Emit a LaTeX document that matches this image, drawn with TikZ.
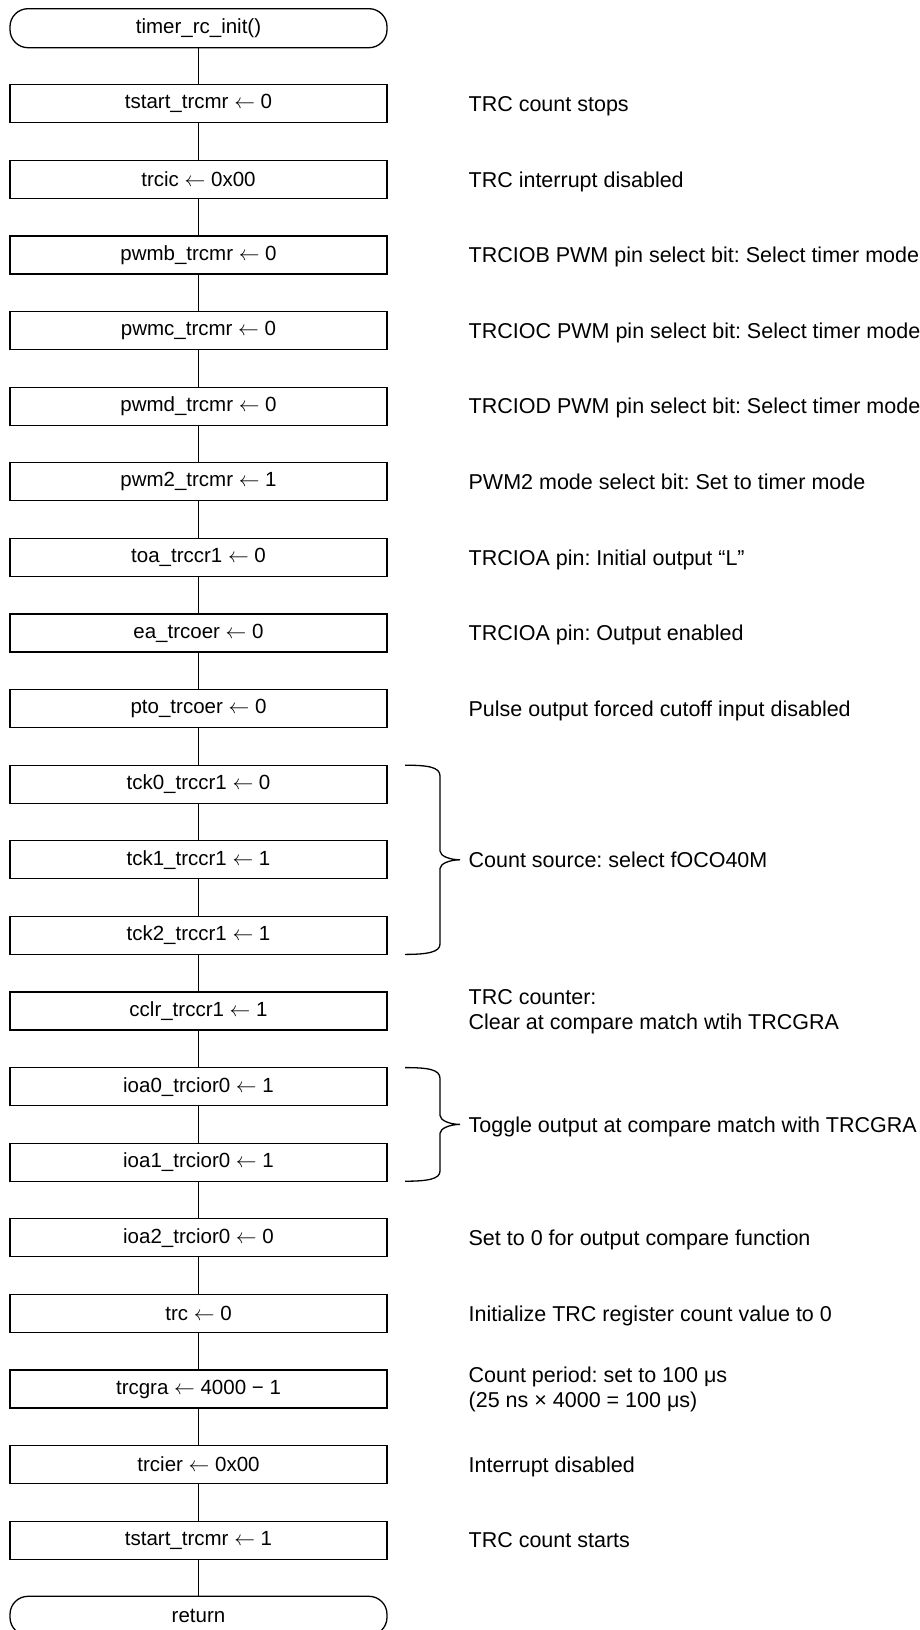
\documentclass[tikz,border=0pt]{standalone}
\usepackage{fontspec}
\setmainfont{Liberation Sans}
\usepackage{tikz}
\frenchspacing
\newcommand{\asgn}{$\leftarrow$}

\tikzset{
  proc/.style={draw, rectangle, minimum width=377pt, minimum height=38pt, inner sep=0pt},
  term/.style={draw, rectangle, rounded corners=18pt, minimum width=377pt, minimum height=39pt, inner sep=0pt},
  note/.style={anchor=base west, yshift=-7.7pt, inner sep=0pt, font=\fontsize{21.5}{25.5}\selectfont},
  notetwo/.style={anchor=west, align=left, yshift=-0.5pt, inner sep=0pt, font=\fontsize{21.5}{25.5}\selectfont}
}

\begin{document}
\begin{tikzpicture}[x=1pt, y=-1pt, line width=1.3pt, font=\fontsize{20.5}{24}\selectfont]
            \useasboundingbox (0,0) rectangle (920,1630);
            \clip (0,0) rectangle (920,1630);

            % Flow of the init routine
            \node[term] (start) at (198.5,28.2) {timer\_rc\_init()};
            \node[proc] (tstartA) at (198.5,103.8) {tstart\_trcmr \asgn{} 0};
            \node[proc] (trcic) at (198.5,179.4) {trcic \asgn{} 0x00};
            \node[proc] (pwmb) at (198.5,255.0) {pwmb\_trcmr \asgn{} 0};
            \node[proc] (pwmc) at (198.5,330.6) {pwmc\_trcmr \asgn{} 0};
            \node[proc] (pwmd) at (198.5,406.2) {pwmd\_trcmr \asgn{} 0};
            \node[proc] (pwm2) at (198.5,481.8) {pwm2\_trcmr \asgn{} 1};
            \node[proc] (toa) at (198.5,557.4) {toa\_trccr1 \asgn{} 0};
            \node[proc] (ea) at (198.5,633.0) {ea\_trcoer \asgn{} 0};
            \node[proc] (pto) at (198.5,708.6) {pto\_trcoer \asgn{} 0};
            \node[proc] (tck0) at (198.5,784.2) {tck0\_trccr1 \asgn{} 0};
            \node[proc] (tck1) at (198.5,859.8) {tck1\_trccr1 \asgn{} 1};
            \node[proc] (tck2) at (198.5,935.4) {tck2\_trccr1 \asgn{} 1};
            \node[proc] (cclr) at (198.5,1011.0) {cclr\_trccr1 \asgn{} 1};
            \node[proc] (ioa0) at (198.5,1086.6) {ioa0\_trcior0 \asgn{} 1};
            \node[proc] (ioa1) at (198.5,1162.2) {ioa1\_trcior0 \asgn{} 1};
            \node[proc] (ioa2) at (198.5,1237.8) {ioa2\_trcior0 \asgn{} 0};
            \node[proc] (trc) at (198.5,1313.4) {trc \asgn{} 0};
            \node[proc] (trcgra) at (198.5,1389.0) {trcgra \asgn{} 4000 − 1};
            \node[proc] (trcier) at (198.5,1464.6) {trcier \asgn{} 0x00};
            \node[proc] (tstartB) at (198.5,1540.2) {tstart\_trcmr \asgn{} 1};
            \node[term] (ret) at (198.5,1615.8) {return};

            \foreach \a/\b in {start/tstartA, tstartA/trcic, trcic/pwmb, pwmb/pwmc, pwmc/pwmd,
                pwmd/pwm2, pwm2/toa, toa/ea, ea/pto, pto/tck0, tck0/tck1, tck1/tck2, tck2/cclr,
                cclr/ioa0, ioa0/ioa1, ioa1/ioa2, ioa2/trc, trc/trcgra, trcgra/trcier,
                trcier/tstartB, tstartB/ret}
                \draw (\a) -- (\b);

            % Comments on the right
            \node[note] (ntstartA) at (468,103.8) {TRC count stops};
            \node[note] (ntrcic) at (468,179.4) {TRC interrupt disabled};
            \node[note] (npwmb) at (468,255.0) {TRCIOB PWM pin select bit: Select timer mode};
            \node[note] (npwmc) at (468,330.6) {TRCIOC PWM pin select bit: Select timer mode};
            \node[note] (npwmd) at (468,406.2) {TRCIOD PWM pin select bit: Select timer mode};
            \node[note] (npwm2) at (468,481.8) {PWM2 mode select bit: Set to timer mode};
            \node[note] (ntoa) at (468,557.4) {TRCIOA pin: Initial output “L”};
            \node[note] (nea) at (468,633.0) {TRCIOA pin: Output enabled};
            \node[note] (npto) at (468,708.6) {Pulse output forced cutoff input disabled};
            \node[note] (ntck) at (468,859.8) {Count source: select fOCO40M};
            \node[notetwo] (ncclr) at (468,1011.0) {TRC counter:\\Clear at compare match wtih TRCGRA};
            \node[note] (nioa) at (468,1124.4) {Toggle output at compare match with TRCGRA};
            \node[note] (nioa2) at (468,1237.8) {Set to 0 for output compare function};
            \node[note] (ntrc) at (468,1313.4) {Initialize TRC register count value to 0};
            \node[notetwo] (ntrcgra) at (468,1389.0) {Count period: set to 100 μs\\(25 ns × 4000 = 100 μs)};
            \node[note] (ntrcier) at (468,1464.6) {Interrupt disabled};
            \node[note] (ntstartB) at (468,1540.2) {TRC count starts};

            % Braces
            \draw (405,765.2) .. controls (428,765.2) and (440,767) .. (440,776) -- (440,851)
                .. controls (440,856) and (450,859.8) .. (460,859.8)
                .. controls (450,859.8) and (440,863.6) .. (440,868.6) -- (440,944)
                .. controls (440,952) and (428,954.4) .. (405,954.4);
            \draw (405,1067.6) .. controls (428,1067.6) and (440,1069.4) .. (440,1078.4) -- (440,1115.4)
                .. controls (440,1120.4) and (450,1124.4) .. (460,1124.4)
                .. controls (450,1124.4) and (440,1128.4) .. (440,1133.4) -- (440,1171)
                .. controls (440,1179) and (428,1181.2) .. (405,1181.2);
        \end{tikzpicture}
\end{document}
